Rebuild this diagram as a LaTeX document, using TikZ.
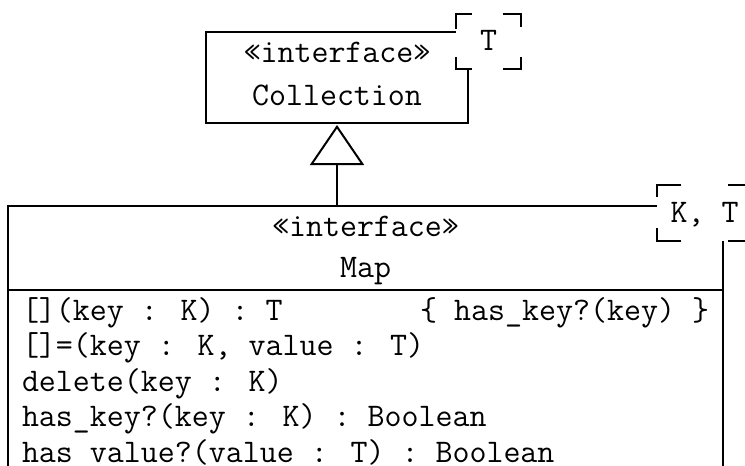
\documentclass[tikz,border=0pt]{standalone}
\usepackage{fontspec}
\usetikzlibrary{arrows.meta}
\begin{document}
\begin{tikzpicture}[x=1pt,y=-1pt,
  line width=2pt,
  umlbox/.style={draw=black, rectangle, inner sep=0pt, outer sep=0pt, fill=white},
  tplbox/.style={rectangle, inner sep=0pt, outer sep=0pt, fill=white, draw=none},
  tpl/.style={draw=black, line width=2pt, line cap=butt, line join=miter},
  umltext/.style={inner sep=0pt, outer sep=0pt, font=\ttfamily\fontsize{33}{38}\selectfont},
  inherit/.style={draw=black, -{Triangle[open, length=40pt, width=54pt, line width=2pt]}, shorten >=2pt}
]
\useasboundingbox (0,0) rectangle (745,466);
\clip (0,0) rectangle (745,466);
\fill[white] (0,0) rectangle (745,466);

% Collection interface
\node[umlbox, minimum width=262pt, minimum height=91pt] (coll) at (337,77.5) {};
\node[umltext, anchor=base] (collst) at (337,62) {«interface»};
\node[umltext, anchor=base] (collname) at (337,105) {Collection};
% template box T
\node[tplbox, minimum width=65pt, minimum height=55pt] (tplT) at (488.5,41.5) {};
\draw[tpl] ([yshift=-15pt]tplT.north west) -- (tplT.north west) -- ([xshift=16pt]tplT.north west);
\draw[tpl] ([xshift=-18pt]tplT.north east) -- (tplT.north east) -- ([yshift=-13pt]tplT.north east);
\draw[tpl] ([yshift=12pt]tplT.south west) -- (tplT.south west) -- ([xshift=16pt]tplT.south west);
\draw[tpl] ([xshift=-18pt]tplT.south east) -- (tplT.south east) -- ([yshift=12pt]tplT.south east);
\node[umltext, anchor=base] (tplTtext) at (488.5,50) {T};

% Map interface
\node[umlbox, minimum width=715pt, minimum height=300pt] (map) at (365.5,356) {};
\coordinate (sepL) at (8,290);
\coordinate (sepR) at (723,290);
\draw (sepL) -- (sepR);
\node[umltext, anchor=base] (mapst) at (365.5,236) {«interface»};
\node[umltext, anchor=base] (mapname) at (365.5,277) {Map};
% template box K, T
\node[tplbox, minimum width=95pt, minimum height=56pt] (tplKT) at (704.5,213) {};
\draw[tpl] ([yshift=-12pt]tplKT.north west) -- (tplKT.north west) -- ([xshift=24pt]tplKT.north west);
\draw[tpl] ([xshift=-24pt]tplKT.north east) -- (tplKT.north east) -- ([yshift=-12pt]tplKT.north east);
\draw[tpl] ([yshift=13pt]tplKT.south west) -- (tplKT.south west) -- ([xshift=24pt]tplKT.south west);
\draw[tpl] ([xshift=-24pt]tplKT.south east) -- (tplKT.south east) -- ([yshift=13pt]tplKT.south east);
\node[umltext, anchor=base] (tplKTtext) at (704.5,222) {K, T};

% operations
\node[umltext, anchor=base west] (op1) at (22,320) {[](key : K) : T};
\node[umltext, anchor=base east] (op1c) at (709,320) {\{ has\_key?(key) \}};
\node[umltext, anchor=base west] (op2) at (22,355.5) {[]=(key : K, value : T)};
\node[umltext, anchor=base west] (op3) at (22,391) {delete(key : K)};
\node[umltext, anchor=base west] (op4) at (22,426.5) {has\_key?(key : K) : Boolean};
\node[umltext, anchor=base west] (op5) at (22,462) {has\_value?(value : T) : Boolean};

% generalization
\draw[inherit] (coll.south |- map.north) -- (coll.south);
\end{tikzpicture}
\end{document}
